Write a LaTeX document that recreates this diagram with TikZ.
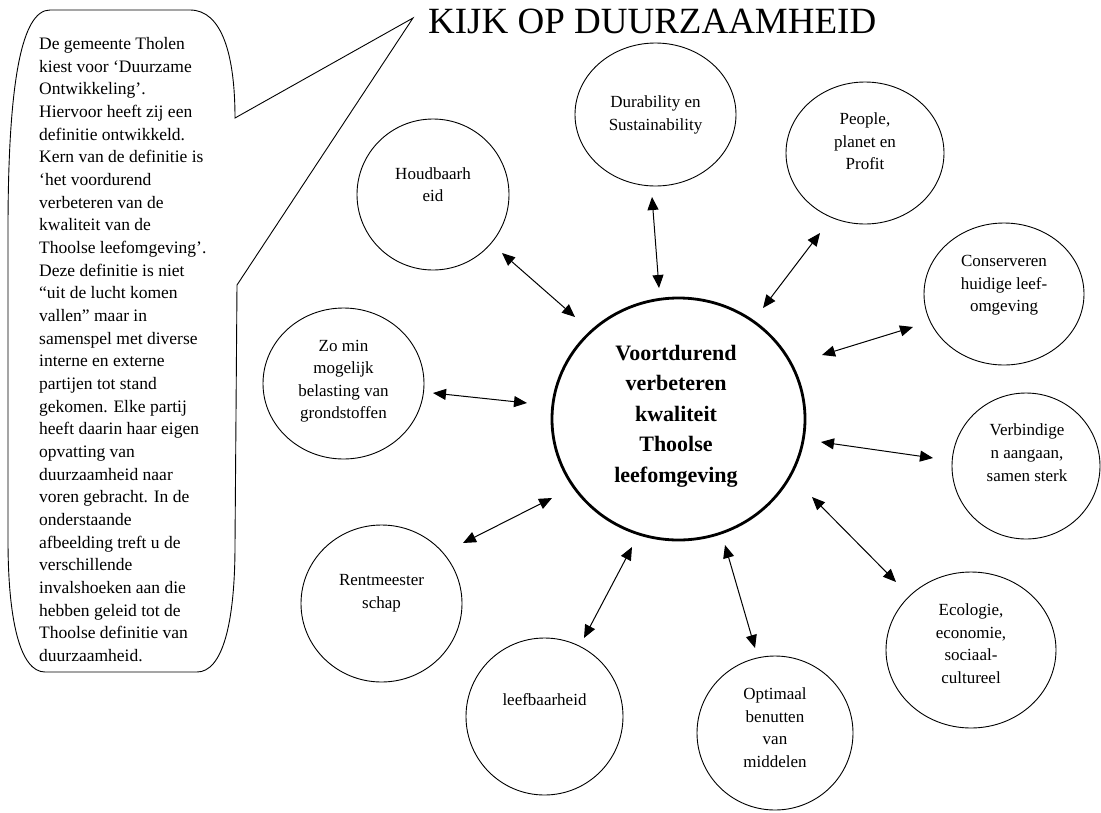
\documentclass[tikz,border=0pt]{standalone}
\usepackage{fontspec}
\setmainfont{Liberation Serif}
\usetikzlibrary{arrows.meta,shapes.geometric}
\newcommand\hg{\vphantom{lg}}
\begin{document}
\begin{tikzpicture}[x=1pt,y=-1pt,
  bub/.style={draw, ellipse, line width=0.9pt, inner sep=0pt},
  lab/.style={align=center, inner sep=0pt, font=\fontsize{17}{22.6}\selectfont},
  link/.style={line width=1pt, {Triangle[length=13pt,width=11pt]}-{Triangle[length=13pt,width=11pt]}}]
\useasboundingbox (0,0) rectangle (1101,812);

% callout
\draw[line width=0.9pt] (8,540) -- (8,230) .. controls (8,80) and (22,10) .. (50,10) -- (190,10)
  .. controls (222,10) and (235,55) .. (235,118) -- (413,18) -- (237,285) -- (235,545)
  .. controls (235,625) and (222,672) .. (197,672) -- (45,672)
  .. controls (20,672) and (8,620) .. (8,540) -- cycle;
\node[anchor=north west, align=left, inner sep=0pt, font=\fontsize{17.5}{22.67}\selectfont] (call) at (39,37) {\hg De gemeente Tholen\\
kiest voor ‘Duurzame\\
Ontwikkeling’.\\
Hiervoor heeft zij een\\
definitie ontwikkeld.\\
Kern van de definitie is\\
‘het voordurend\\
verbeteren van de\\
kwaliteit van de\\
Thoolse leefomgeving’.\\
Deze definitie is niet\\
“uit de lucht komen\\
vallen” maar in\\
samenspel met diverse\\
interne en externe\\
partijen tot stand\\
gekomen. Elke partij\\
heeft daarin haar eigen\\
opvatting van\\
duurzaamheid naar\\
voren gebracht. In de\\
onderstaande\\
afbeelding treft u de\\
verschillende\\
invalshoeken aan die\\
hebben geleid tot de\\
Thoolse definitie van\\
duurzaamheid.};

% title
\node[anchor=base west, inner sep=0pt, font=\fontsize{37}{40}\selectfont] (title) at (428,33) {KIJK OP DUURZAAMHEID};

% main circle
\node[draw, ellipse, line width=2.8pt, inner sep=0pt, minimum width=253pt, minimum height=242pt] (main) at (678.5,419) {};
\node[lab, font=\bfseries\fontsize{22}{30.5}\selectfont] (tmain) at (676,416) {\hg Voortdurend\\ verbeteren\\ kwaliteit\\ Thoolse\\ \hg leefomgeving};

% outer circles
\node[bub, minimum width=152pt, minimum height=151pt] (hou) at (433,194.5) {};
\node[bub, minimum width=161pt, minimum height=143pt] (dur) at (655.5,114.5) {};
\node[bub, minimum width=158pt, minimum height=142pt] (peo) at (865,153) {};
\node[bub, minimum width=160pt, minimum height=142pt] (con) at (1004,294) {};
\node[bub, minimum width=148pt, minimum height=146pt] (ver) at (1026,466) {};
\node[bub, minimum width=170pt, minimum height=156pt] (eco) at (971,650) {};
\node[bub, minimum width=156pt, minimum height=154pt] (opt) at (775,733) {};
\node[bub, minimum width=157pt, minimum height=157pt] (lee) at (544.5,716.5) {};
\node[bub, minimum width=161pt, minimum height=157pt] (ren) at (381.5,603.5) {};
\node[bub, minimum width=161pt, minimum height=151pt] (zom) at (343.5,383.5) {};

% labels
\node[lab] (thou) at (433,186.5) {\hg Houdbaarh\\ \hg eid};
\node[lab] (tdur) at (655.5,115) {\hg Durability en\\ \hg Sustainability};
\node[lab] (tpeo) at (865,143) {\hg People,\\ planet en\\ \hg Profit};
\node[lab] (tcon) at (1004,285) {\hg Conserveren\\ huidige leef-\\ \hg omgeving};
\node[lab] (tver) at (1027,454.5) {\hg Verbindige\\ n aangaan,\\ \hg samen sterk};
\node[lab] (teco) at (971,645.5) {\hg Ecologie,\\ economie,\\ sociaal-\\ \hg cultureel};
\node[lab] (topt) at (775,729.5) {\hg Optimaal\\ benutten\\ van\\ \hg middelen};
\node[lab] (tlee) at (544.5,701) {\hg leefbaarheid};
\node[lab] (tren) at (381.5,593) {\hg Rentmeester\\ \hg schap};
\node[lab] (tzom) at (343.5,381) {\hg Zo min\\ mogelijk\\ belasting van\\ \hg grondstoffen};

% connector end points
\coordinate (h1) at (502,253);  \coordinate (h2) at (575,317);
\coordinate (d1) at (652,197);  \coordinate (d2) at (659,288);
\coordinate (p1) at (820,233);  \coordinate (p2) at (763,308);
\coordinate (c1) at (913,327);  \coordinate (c2) at (822,355);
\coordinate (v1) at (933,458);  \coordinate (v2) at (821,442);
\coordinate (e1) at (896,582);  \coordinate (e2) at (812,497);
\coordinate (o1) at (755,648);  \coordinate (o2) at (725,545);
\coordinate (l1) at (584,638);  \coordinate (l2) at (632,547);
\coordinate (r1) at (463,543);  \coordinate (r2) at (552,498);
\coordinate (z1) at (433,393);  \coordinate (z2) at (527,403);

\draw[link] (h1) -- (h2);
\draw[link] (d1) -- (d2);
\draw[link] (p1) -- (p2);
\draw[link] (c1) -- (c2);
\draw[link] (v1) -- (v2);
\draw[link] (e1) -- (e2);
\draw[link] (o1) -- (o2);
\draw[link] (l1) -- (l2);
\draw[link] (r1) -- (r2);
\draw[link] (z1) -- (z2);
\end{tikzpicture}
\end{document}
